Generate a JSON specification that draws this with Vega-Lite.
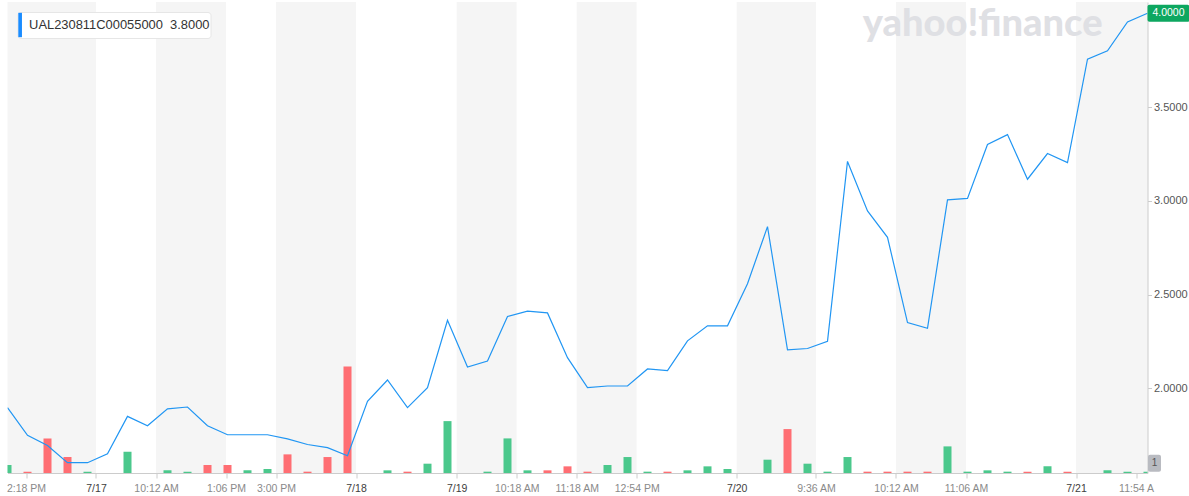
{
  "$schema": "https://vega.github.io/schema/vega-lite/v6.json",
  "width": 1140,
  "height": 471,
  "autosize": {"type": "none"},
  "padding": {"left": 7.5, "top": 2, "right": 41.5, "bottom": 23},
  "background": "#ffffff",
  "config": {
    "view": {"stroke": null},
    "font": "Liberation Sans",
    "axis": {"labelFont": "Liberation Sans"},
    "legend": {"labelFont": "Liberation Sans"}
  },
  "title": {
    "text": "yahoo!finance",
    "anchor": "end",
    "orient": "top",
    "frame": "group",
    "offset": 0,
    "dy": 72,
    "dx": -45,
    "fontSize": 38,
    "fontWeight": 900,
    "font": "Lato",
    "color": "#dfe0e4",
    "baseline": "alphabetic"
  },
  "datasets": {
    "bands": [
      {"i": -1, "i2": 4.425},
      {"i": 7.425, "i2": 10.925},
      {"i": 13.425, "i2": 17.425},
      {"i": 22.46, "i2": 25.46},
      {"i": 28.46, "i2": 31.46},
      {"i": 36.46, "i2": 40.425},
      {"i": 44.425, "i2": 47.925},
      {"i": 53.425, "i2": 58}
    ],
    "last": [
      {"i": 57, "price": 4.0, "vol": 1, "plabel": "4.0000", "vlabel": "1"}
    ],
    "prices": [
      {"i": 0, "price": 1.897, "vol": 6, "dir": "up"},
      {"i": 1, "price": 1.749, "vol": 1, "dir": "down"},
      {"i": 2, "price": 1.695, "vol": 26, "dir": "down"},
      {"i": 3, "price": 1.603, "vol": 12, "dir": "down"},
      {"i": 4, "price": 1.603, "vol": 1, "dir": "up"},
      {"i": 5, "price": 1.65, "vol": 0, "dir": "up"},
      {"i": 6, "price": 1.85, "vol": 16, "dir": "up"},
      {"i": 7, "price": 1.80, "vol": 0, "dir": "down"},
      {"i": 8, "price": 1.89, "vol": 2, "dir": "up"},
      {"i": 9, "price": 1.90, "vol": 1, "dir": "up"},
      {"i": 10, "price": 1.80, "vol": 6, "dir": "down"},
      {"i": 11, "price": 1.752, "vol": 6, "dir": "down"},
      {"i": 12, "price": 1.752, "vol": 2, "dir": "up"},
      {"i": 13, "price": 1.752, "vol": 3, "dir": "up"},
      {"i": 14, "price": 1.73, "vol": 14, "dir": "down"},
      {"i": 15, "price": 1.70, "vol": 1, "dir": "down"},
      {"i": 16, "price": 1.683, "vol": 12, "dir": "down"},
      {"i": 17, "price": 1.64, "vol": 80, "dir": "down"},
      {"i": 18, "price": 1.93, "vol": 0, "dir": "up"},
      {"i": 19, "price": 2.044, "vol": 2, "dir": "up"},
      {"i": 20, "price": 1.897, "vol": 1, "dir": "down"},
      {"i": 21, "price": 2.003, "vol": 7, "dir": "up"},
      {"i": 22, "price": 2.363, "vol": 39, "dir": "up"},
      {"i": 23, "price": 2.113, "vol": 0, "dir": "down"},
      {"i": 24, "price": 2.145, "vol": 1, "dir": "up"},
      {"i": 25, "price": 2.383, "vol": 26, "dir": "up"},
      {"i": 26, "price": 2.411, "vol": 2, "dir": "up"},
      {"i": 27, "price": 2.402, "vol": 2, "dir": "down"},
      {"i": 28, "price": 2.163, "vol": 5, "dir": "down"},
      {"i": 29, "price": 2.003, "vol": 1, "dir": "down"},
      {"i": 30, "price": 2.012, "vol": 6, "dir": "up"},
      {"i": 31, "price": 2.012, "vol": 12, "dir": "up"},
      {"i": 32, "price": 2.103, "vol": 1, "dir": "up"},
      {"i": 33, "price": 2.094, "vol": 1, "dir": "down"},
      {"i": 34, "price": 2.253, "vol": 2, "dir": "up"},
      {"i": 35, "price": 2.333, "vol": 5, "dir": "up"},
      {"i": 36, "price": 2.333, "vol": 3, "dir": "up"},
      {"i": 37, "price": 2.558, "vol": 0, "dir": "up"},
      {"i": 38, "price": 2.862, "vol": 10, "dir": "up"},
      {"i": 39, "price": 2.205, "vol": 33, "dir": "down"},
      {"i": 40, "price": 2.212, "vol": 7, "dir": "up"},
      {"i": 41, "price": 2.251, "vol": 1, "dir": "up"},
      {"i": 42, "price": 3.21, "vol": 12, "dir": "up"},
      {"i": 43, "price": 2.946, "vol": 1, "dir": "down"},
      {"i": 44, "price": 2.805, "vol": 1, "dir": "down"},
      {"i": 45, "price": 2.35, "vol": 1, "dir": "down"},
      {"i": 46, "price": 2.32, "vol": 1, "dir": "down"},
      {"i": 47, "price": 3.005, "vol": 20, "dir": "up"},
      {"i": 48, "price": 3.013, "vol": 1, "dir": "up"},
      {"i": 49, "price": 3.30, "vol": 2, "dir": "up"},
      {"i": 50, "price": 3.353, "vol": 1, "dir": "up"},
      {"i": 51, "price": 3.115, "vol": 1, "dir": "down"},
      {"i": 52, "price": 3.252, "vol": 5, "dir": "up"},
      {"i": 53, "price": 3.204, "vol": 1, "dir": "down"},
      {"i": 54, "price": 3.755, "vol": 0, "dir": "up"},
      {"i": 55, "price": 3.80, "vol": 2, "dir": "up"},
      {"i": 56, "price": 3.954, "vol": 1, "dir": "up"},
      {"i": 57, "price": 4.00, "vol": 1, "dir": "up"}
    ]
  },
  "encoding": {
    "x": {
      "field": "i",
      "type": "quantitative",
      "scale": {"domain": [0, 57], "nice": false, "zero": false, "padding": 0},
      "axis": {
        "title": null,
        "grid": false,
        "values": [0.925, 4.425, 7.425, 10.925, 13.425, 17.425, 22.46, 25.46, 28.46, 31.46, 36.46, 40.425, 44.425, 47.925, 53.425, 56.425],
        "labelExpr": "datum.value==0.925?'2:18 PM':datum.value==4.425?'7/17':datum.value==7.425?'10:12 AM':datum.value==10.925?'1:06 PM':datum.value==13.425?'3:00 PM':datum.value==17.425?'7/18':datum.value==22.46?'7/19':datum.value==25.46?'10:18 AM':datum.value==28.46?'11:18 AM':datum.value==31.46?'12:54 PM':datum.value==36.46?'7/20':datum.value==40.425?'9:36 AM':datum.value==44.425?'10:12 AM':datum.value==47.925?'11:06 AM':datum.value==53.425?'7/21':'11:54 A'",
        "labelColor": {
          "condition": {"test": "datum.value==4.425||datum.value==17.425||datum.value==22.46||datum.value==36.46||datum.value==53.425", "value": "#3d3d3d"},
          "value": "#8a8a8a"
        },
        "labelFontSize": 10.5,
        "labelPadding": 5,
        "tickSize": 5,
        "tickColor": "#cccccc",
        "domainColor": "#cccccc",
        "labelOverlap": false,
        "labelFlush": false,
        "labelBound": false
      }
    }
  },
  "layer": [
    {
      "data": {"name": "bands"},
      "mark": {"type": "rect", "color": "#000000", "opacity": 0.04, "clip": true},
      "encoding": {"x2": {"field": "i2"}}
    },
    {
      "encoding": {
        "y": {
          "field": "vol",
          "type": "quantitative",
          "scale": {"domain": [0, 354], "nice": false, "zero": true},
          "axis": null
        }
      },
      "layer": [
        {
          "data": {"name": "prices"},
          "mark": {"type": "bar", "width": 8, "clip": true},
          "encoding": {
            "fill": {
              "field": "dir",
              "type": "nominal",
              "scale": {"domain": ["up", "down"], "range": ["#4bc88c", "#ff6e73"]},
              "legend": null
            }
          }
        },
        {
          "data": {"name": "last"},
          "mark": {"type": "rect", "width": 13, "height": 17, "xOffset": 7, "yOffset": -8.5, "cornerRadius": 2, "color": "#b9bbc1"}
        },
        {
          "data": {"name": "last"},
          "mark": {"type": "text", "xOffset": 7, "yOffset": -8.5, "fontSize": 10, "color": "#555555", "align": "center", "baseline": "middle"},
          "encoding": {"text": {"field": "vlabel"}}
        }
      ]
    },
    {
      "encoding": {
        "y": {
          "field": "price",
          "type": "quantitative",
          "scale": {"domain": [1.548, 4.0603], "nice": false, "zero": false},
          "axis": {
            "title": null,
            "orient": "right",
            "values": [2, 2.5, 3, 3.5, 4],
            "format": ".4f",
            "labelExpr": "datum.value==4?'':datum.label",
            "gridColor": "#ebebeb",
            "domainColor": "#cccccc",
            "tickColor": "#cccccc",
            "tickSize": 4,
            "labelPadding": 2,
            "labelFontSize": 11,
            "labelColor": "#555555"
          }
        }
      },
      "layer": [
        {
          "data": {"name": "prices"},
          "mark": {"type": "line", "strokeWidth": 1.2, "clip": true},
          "encoding": {
            "color": {
              "datum": "UAL230811C00055000\u00a0\u00a03.8000\u00a0\u00a0",
              "type": "nominal",
              "scale": {"range": ["#2196f3"]},
              "legend": {
                "title": null,
                "orient": "top-left",
                "offset": 10,
                "padding": 0.5,
                "fillColor": "#ffffff",
                "strokeColor": "#e6e6e6",
                "cornerRadius": 3,
                "labelFontSize": 12.9,
                "labelColor": "#333333",
                "labelLimit": 400,
                "labelOffset": -13.9,
                "symbolType": "M-1,-1H-0.7V1H-1Z",
                "symbolSize": 595,
                "symbolStrokeWidth": 0,
                "symbolFillColor": "#1a8cff",
                "encode": {"symbols": {"update": {"fill": {"value": "#1a8cff"}, "stroke": {"value": "transparent"}}}}
              }
            }
          }
        },
        {
          "data": {"name": "last"},
          "mark": {"type": "rect", "width": 42, "height": 17, "xOffset": 21, "cornerRadius": 2, "color": "#0da760"}
        },
        {
          "data": {"name": "last"},
          "mark": {"type": "text", "xOffset": 21, "fontSize": 10.5, "color": "#ffffff", "align": "center", "baseline": "middle"},
          "encoding": {"text": {"field": "plabel"}}
        }
      ]
    }
  ],
  "resolve": {"scale": {"y": "independent"}}
}
